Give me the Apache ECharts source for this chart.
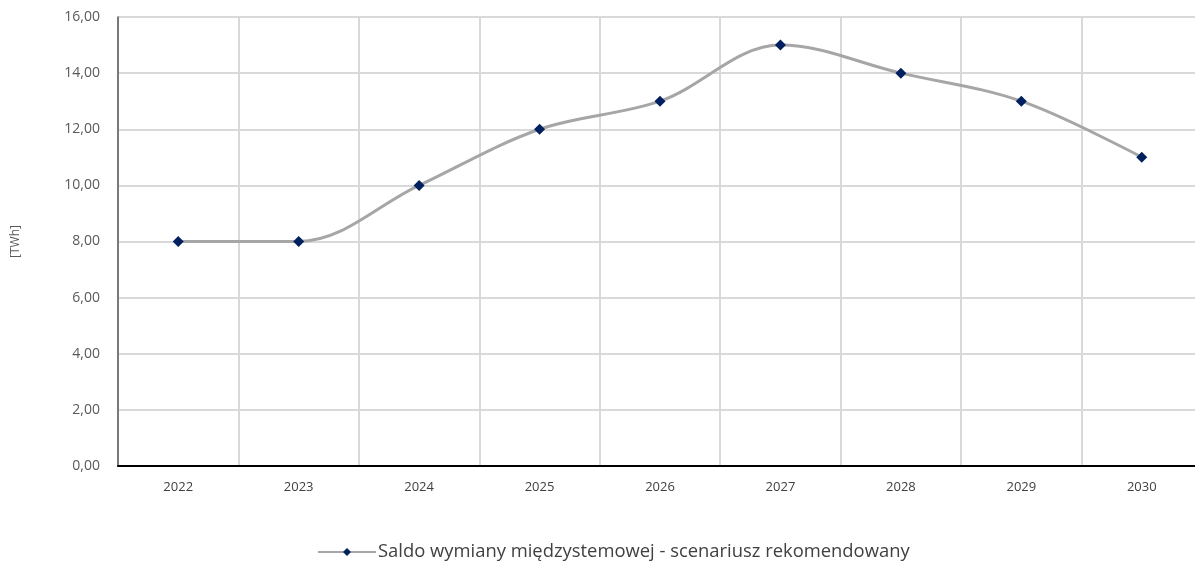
<!DOCTYPE html>
<html><head><meta charset="utf-8">
<script src="https://cdn.jsdelivr.net/npm/echarts@6/dist/echarts.min.js"></script>
<style>html,body{margin:0;padding:0;background:#fff;overflow:hidden}#c{width:1202px;height:563px}</style>
</head><body><div id="c"></div>
<script>
const categories = ['2022','2023','2024','2025','2026','2027','2028','2029','2030'];
const values = [8, 8, 10, 12, 13, 15, 14, 13, 11];
const seriesName = 'Saldo wymiany międzystemowej - scenariusz rekomendowany';
const yAxisName = '[TWh]';

const chart = echarts.init(document.getElementById('c'));
chart.setOption({
  animation: false,
  textStyle: { fontFamily: 'Open Sans' },
  grid: { left: 118, top: 17, right: 0, bottom: 97 },
  legend: {
    top: 538, left: 312,
    itemWidth: 58, itemHeight: 10, itemGap: 0,
    textStyle: { fontSize: 18.4, color: '#404040', fontFamily: 'Open Sans', padding: [0, 0, 0, -3] },
    data: [seriesName]
  },
  xAxis: {
    type: 'category', data: categories, boundaryGap: true,
    axisLine: { lineStyle: { color: '#000', width: 2 } },
    axisTick: { show: false },
    axisLabel: { color: '#404040', fontSize: 13, margin: 15 },
    splitLine: { show: true, lineStyle: { color: '#d9d9d9', width: 2 } }
  },
  yAxis: {
    type: 'value', min: 0, max: 16, interval: 2,
    name: yAxisName, nameLocation: 'middle', nameGap: 96, nameRotate: 90,
    nameTextStyle: { color: '#595959', fontSize: 12 },
    axisLine: { show: true, lineStyle: { color: '#595959', width: 1.5 } },
    axisTick: { show: false },
    axisLabel: { color: '#595959', fontSize: 14, margin: 18,
      formatter: v => v.toFixed(2).replace('.', ',') },
    splitLine: { lineStyle: { color: '#d9d9d9', width: 2 } }
  },
  series: [{
    name: seriesName, type: 'line', data: values, smooth: 0.35,
    symbol: 'diamond', symbolSize: 11,
    lineStyle: { color: '#a6a6a6', width: 3 },
    itemStyle: { color: '#002060' }
  }]
});
</script></body></html>
